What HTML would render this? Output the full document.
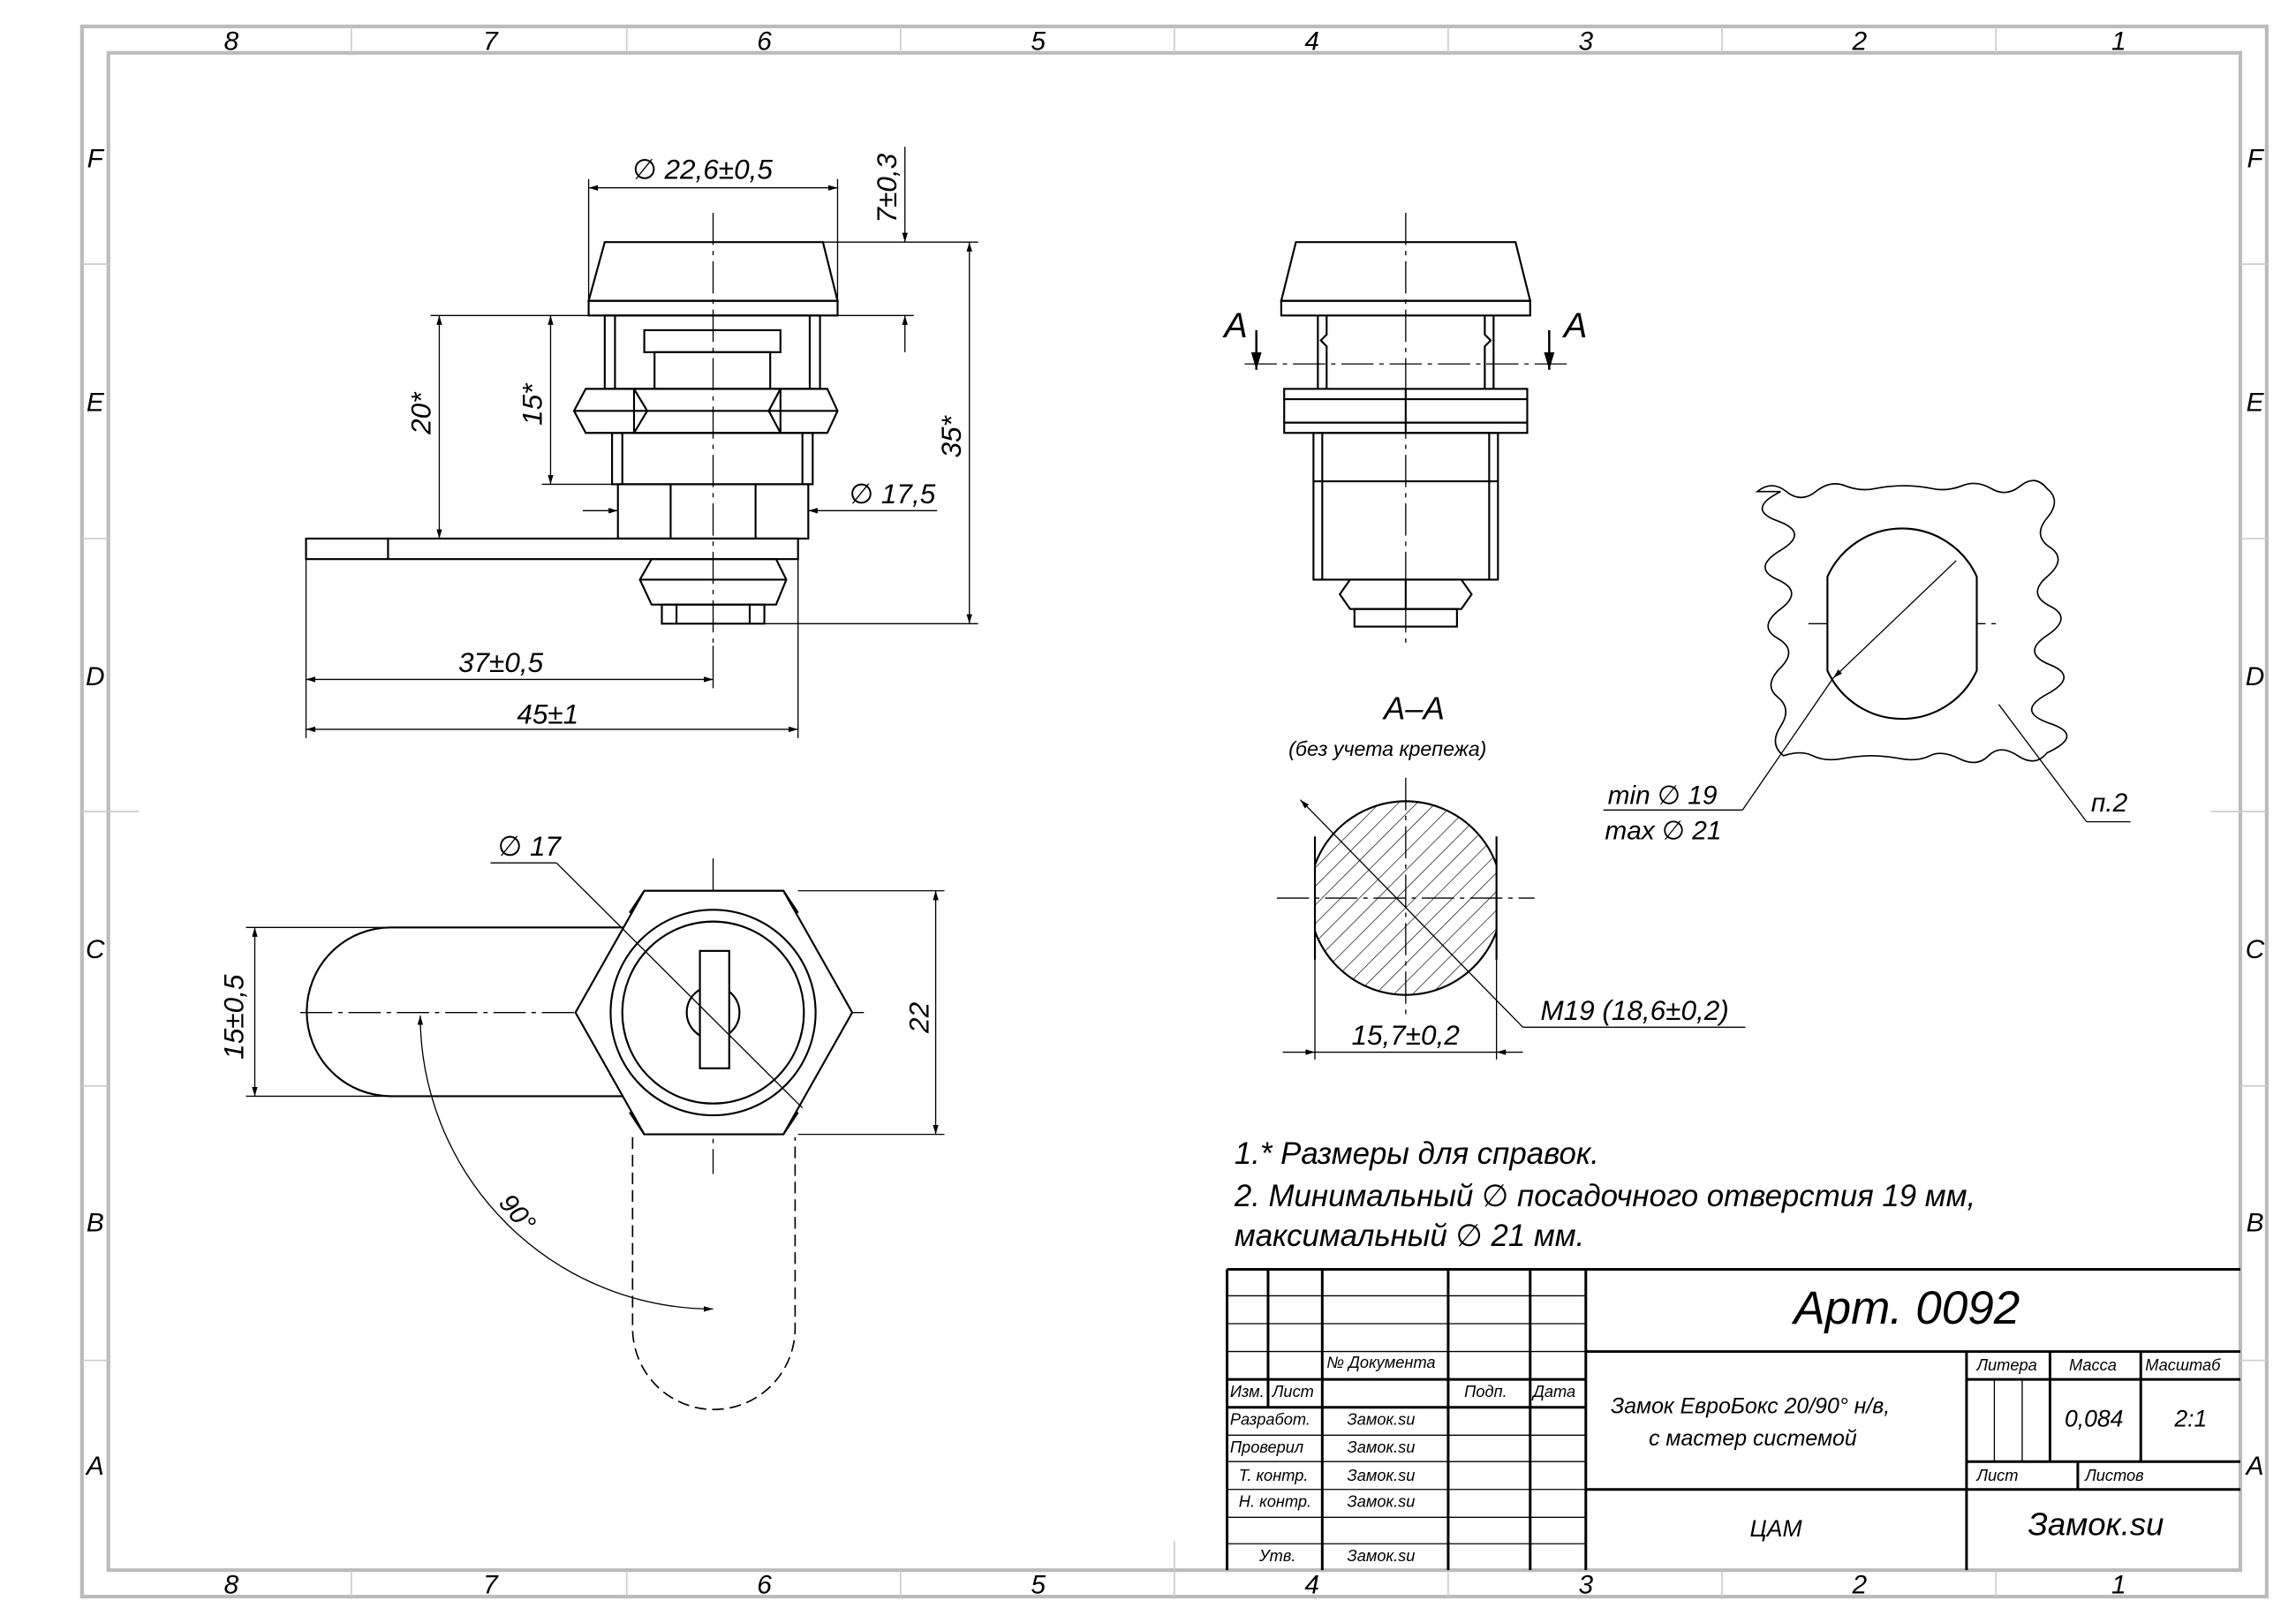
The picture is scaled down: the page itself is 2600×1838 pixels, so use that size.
<!DOCTYPE html>
<html><head><meta charset="utf-8"><style>
html,body{margin:0;padding:0;background:#fff;}
svg{display:block}
text{font-family:"Liberation Sans","DejaVu Sans",sans-serif;font-style:italic;fill:#000}
</style></head><body>
<svg width="2600" height="1838" viewBox="0 0 1568 1106" preserveAspectRatio="none" xmlns="http://www.w3.org/2000/svg">
<defs>
<marker id="ar" viewBox="0 0 10 10" refX="10" refY="5" markerWidth="8" markerHeight="8" orient="auto-start-reverse"><path d="M0,2 L10,5 L0,8 z" fill="#000"/></marker>
<pattern id="hatch" width="9" height="9" patternUnits="userSpaceOnUse" patternTransform="rotate(45)"><line x1="0" y1="0" x2="0" y2="9" stroke="#000" stroke-width="0.8"/></pattern>
<clipPath id="sec"><rect x="898" y="540" width="124" height="150"/></clipPath>
</defs>
<!-- frame -->
<g fill="none" stroke="#bbb" stroke-width="2.5">
<rect x="56" y="18" width="1492" height="1070"/>
<rect x="74" y="36" width="1456" height="1034"/>
</g>
<g stroke="#ccc" stroke-width="1">
<line x1="240" y1="18" x2="240" y2="36"/><line x1="428" y1="18" x2="428" y2="36"/><line x1="615" y1="18" x2="615" y2="36"/><line x1="802" y1="18" x2="802" y2="36"/><line x1="989" y1="18" x2="989" y2="36"/><line x1="1176" y1="18" x2="1176" y2="36"/><line x1="1363" y1="18" x2="1363" y2="36"/>
<line x1="240" y1="1070" x2="240" y2="1088"/><line x1="428" y1="1070" x2="428" y2="1088"/><line x1="615" y1="1070" x2="615" y2="1088"/><line x1="802" y1="1050" x2="802" y2="1088"/><line x1="989" y1="1070" x2="989" y2="1088"/><line x1="1176" y1="1070" x2="1176" y2="1088"/><line x1="1363" y1="1070" x2="1363" y2="1088"/>
<line x1="56" y1="180" x2="74" y2="180"/><line x1="56" y1="367" x2="74" y2="367"/><line x1="56" y1="553" x2="95" y2="553"/><line x1="56" y1="740" x2="74" y2="740"/><line x1="56" y1="927" x2="74" y2="927"/>
<line x1="1530" y1="180" x2="1548" y2="180"/><line x1="1530" y1="367" x2="1548" y2="367"/><line x1="1510" y1="553" x2="1548" y2="553"/><line x1="1530" y1="740" x2="1548" y2="740"/><line x1="1530" y1="927" x2="1548" y2="927"/>
</g>
<g font-size="18" text-anchor="middle" style="font-style:normal">
<text x="158" y="34">8</text><text x="335" y="34">7</text><text x="522" y="34">6</text><text x="709" y="34">5</text><text x="896" y="34">4</text><text x="1083" y="34">3</text><text x="1270" y="34">2</text><text x="1447" y="34">1</text>
<text x="158" y="1086">8</text><text x="335" y="1086">7</text><text x="522" y="1086">6</text><text x="709" y="1086">5</text><text x="896" y="1086">4</text><text x="1083" y="1086">3</text><text x="1270" y="1086">2</text><text x="1447" y="1086">1</text>
<text x="65" y="114">F</text><text x="65" y="280">E</text><text x="65" y="467">D</text><text x="65" y="653">C</text><text x="65" y="839">B</text><text x="65" y="1005">A</text>
<text x="1540" y="114">F</text><text x="1540" y="280">E</text><text x="1540" y="467">D</text><text x="1540" y="653">C</text><text x="1540" y="839">B</text><text x="1540" y="1005">A</text>
</g>

<g fill="none" stroke="#000" stroke-width="1.3">
<!-- top-left view -->
<path d="M413,165 L562,165 L572,205 L402,205 Z"/>
<rect x="402" y="205" width="170" height="10"/>
<rect x="413" y="215" width="147" height="50"/>
<line x1="420" y1="215" x2="420" y2="265"/><line x1="553" y1="215" x2="553" y2="265"/>
<rect x="440" y="225" width="93" height="15"/>
<rect x="447" y="240" width="79" height="25"/>
<path d="M400,265 L565,265 L572,280 L565,295 L400,295 L392,280 Z"/>
<line x1="433" y1="265" x2="433" y2="295"/><line x1="442" y1="280" x2="433" y2="265"/><line x1="442" y1="280" x2="433" y2="295"/>
<line x1="533" y1="265" x2="533" y2="295"/><line x1="525" y1="280" x2="533" y2="265"/><line x1="525" y1="280" x2="533" y2="295"/>
<line x1="392" y1="280" x2="572" y2="280"/>
<rect x="418" y="295" width="137" height="35"/>
<line x1="425" y1="295" x2="425" y2="330"/><line x1="548" y1="295" x2="548" y2="330"/>
<rect x="422" y="330" width="130" height="37"/>
<line x1="458" y1="330" x2="458" y2="367"/><line x1="516" y1="330" x2="516" y2="367"/>
<rect x="209" y="367" width="336" height="14"/>
<line x1="265" y1="367" x2="265" y2="381"/>
<path d="M445,381 L530,381 L537,395 L530,412 L445,412 L437,395 Z"/>
<line x1="437" y1="395" x2="537" y2="395"/>
<rect x="452" y="412" width="70" height="13"/>
<line x1="462" y1="412" x2="462" y2="425"/><line x1="512" y1="412" x2="512" y2="425"/>

<!-- middle view -->
<path d="M885,165 L1035,165 L1045,205 L875,205 Z"/>
<rect x="875" y="205" width="170" height="10"/>
<path d="M900,215 L900,265 M1020,215 L1020,265"/>
<path d="M906,215 L906,228 L902,232 L906,236 L906,265 M1014,215 L1014,228 L1018,232 L1014,236 L1014,265"/>
<rect x="877" y="265" width="166" height="30"/>
<line x1="877" y1="272" x2="1043" y2="272"/><line x1="877" y1="288" x2="1043" y2="288"/>
<line x1="960" y1="265" x2="960" y2="295"/>
<rect x="897" y="295" width="126" height="100"/>
<line x1="903" y1="295" x2="903" y2="395"/><line x1="1017" y1="295" x2="1017" y2="395"/>
<line x1="897" y1="328" x2="1023" y2="328"/>
<path d="M922,395 L998,395 L1005,405 L998,415 L922,415 L915,405 Z"/>
<line x1="960" y1="395" x2="960" y2="415"/>
<rect x="925" y="415" width="70" height="12"/>
</g>
<!-- centerlines -->
<g stroke="#000" stroke-width="0.8" stroke-dasharray="22,4,3,4" fill="none">
<line x1="487" y1="145" x2="487" y2="440"/>
<line x1="960" y1="145" x2="960" y2="440"/>
<line x1="850" y1="248" x2="1070" y2="248"/>
<line x1="872" y1="612" x2="1048" y2="612"/><line x1="960" y1="530" x2="960" y2="695"/>
<line x1="1235" y1="425" x2="1365" y2="425"/><line x1="1298" y1="360" x2="1298" y2="490"/>
<line x1="205" y1="690" x2="590" y2="690"/><line x1="487" y1="585" x2="487" y2="800"/>
</g>
<!-- section arrows -->
<g stroke="#000" stroke-width="1.5">
<line x1="858" y1="225" x2="858" y2="252" marker-end="url(#ar)"/>
<line x1="1058" y1="225" x2="1058" y2="252" marker-end="url(#ar)"/>
</g>
<text x="836" y="230" font-size="24">A</text><text x="1068" y="230" font-size="24">A</text>

<!-- dims top-left -->
<g stroke="#000" stroke-width="0.8" fill="none">
<line x1="402" y1="205" x2="402" y2="122"/><line x1="572" y1="205" x2="572" y2="122"/>
<line x1="402" y1="128" x2="572" y2="128" marker-start="url(#ar)" marker-end="url(#ar)"/>
<line x1="562" y1="165" x2="668" y2="165"/><line x1="572" y1="215" x2="624" y2="215"/>
<line x1="618" y1="100" x2="618" y2="165" marker-end="url(#ar)"/>
<line x1="618" y1="240" x2="618" y2="215" marker-end="url(#ar)"/>
<line x1="522" y1="425" x2="668" y2="425"/>
<line x1="662" y1="165" x2="662" y2="425" marker-start="url(#ar)" marker-end="url(#ar)"/>
<line x1="413" y1="215" x2="294" y2="215"/><line x1="209" y1="367" x2="294" y2="367"/>
<line x1="300" y1="215" x2="300" y2="367" marker-start="url(#ar)" marker-end="url(#ar)"/>
<line x1="376" y1="215" x2="376" y2="330" marker-start="url(#ar)" marker-end="url(#ar)"/>
<line x1="370" y1="330" x2="418" y2="330"/>
<line x1="398" y1="348" x2="422" y2="348" marker-end="url(#ar)"/>
<line x1="640" y1="348" x2="552" y2="348" marker-end="url(#ar)"/>
<line x1="209" y1="381" x2="209" y2="503"/><line x1="545" y1="381" x2="545" y2="503"/><line x1="487" y1="440" x2="487" y2="469"/>
<line x1="209" y1="463" x2="487" y2="463" marker-start="url(#ar)" marker-end="url(#ar)"/>
<line x1="209" y1="497" x2="545" y2="497" marker-start="url(#ar)" marker-end="url(#ar)"/>
</g>
<g font-size="19">
<text x="432" y="122">∅ 22,6±0,5</text>
<text transform="translate(612,152) rotate(-90)">7±0,3</text>
<text transform="translate(656,312) rotate(-90)">35*</text>
<text transform="translate(294,296) rotate(-90)">20*</text>
<text transform="translate(370,290) rotate(-90)">15*</text>
<text x="580" y="343">∅ 17,5</text>
<text x="313" y="458">37±0,5</text>
<text x="353" y="493">45±1</text>
</g>

<!-- section A-A -->
<text x="945" y="490" font-size="22">A–A</text>
<text x="880" y="515" font-size="14">(без учета крепежа)</text>
<g clip-path="url(#sec)">
<circle cx="960" cy="612" r="66" fill="url(#hatch)" stroke="#000" stroke-width="1.3"/>
</g>
<line x1="898" y1="570" x2="898" y2="654" stroke="#000" stroke-width="1.3"/>
<line x1="1022" y1="570" x2="1022" y2="654" stroke="#000" stroke-width="1.3"/>
<g stroke="#000" stroke-width="0.8" fill="none">
<line x1="888" y1="545" x2="1040" y2="700" marker-start="url(#ar)"/>
<line x1="1040" y1="700" x2="1192" y2="700"/>
<line x1="898" y1="654" x2="898" y2="722"/><line x1="1022" y1="654" x2="1022" y2="722"/>
<line x1="876" y1="717" x2="898" y2="717" marker-end="url(#ar)"/><line x1="1040" y1="717" x2="1022" y2="717" marker-end="url(#ar)"/>
<line x1="898" y1="717" x2="1022" y2="717"/>
</g>
<text x="1052" y="695" font-size="19">M19  (18,6±0,2)</text>
<text x="923" y="712" font-size="19">15,7±0,2</text>

<!-- hole view -->
<path d="M1200,335 q10,-8 20,0 t20,0 t20,-4 t20,2 t20,-2 t20,2 t20,-2 t20,2 t20,-2 t18,2 q10,8 0,20 t2,20 t-2,20 t2,20 t-2,20 t2,20 t-2,20 t2,20 t-2,20 q-8,10 -20,2 t-20,0 t-20,2 t-20,-2 t-20,2 t-20,-2 t-20,2 t-20,-2 t-20,0 q-10,-8 -2,-20 t-2,-20 t2,-20 t-2,-20 t2,-20 t-2,-20 t2,-20 t-2,-20 t2,-20 z" fill="none" stroke="#000" stroke-width="1"/>
<path d="M1248,393 A56,56 0 0 1 1350,393 L1350,457 A56,56 0 0 1 1248,457 Z" fill="#fff" stroke="#000" stroke-width="1.3"/>
<g stroke="#000" stroke-width="0.8" fill="none">
<line x1="1336" y1="382" x2="1252" y2="462" marker-end="url(#ar)"/>
<line x1="1252" y1="462" x2="1190" y2="552"/>
<line x1="1095" y1="552" x2="1190" y2="552"/>
<line x1="1365" y1="480" x2="1425" y2="560"/><line x1="1425" y1="560" x2="1455" y2="560"/>
</g>
<text x="1098" y="548" font-size="18">min  ∅ 19</text>
<text x="1096" y="572" font-size="18">max  ∅ 21</text>
<text x="1428" y="553" font-size="18">п.2</text>

<!-- bottom-left view -->
<g fill="none" stroke="#000" stroke-width="1.3">
<path d="M267,632 L430,632 M267,747 L430,747 M267,632 A57.5,57.5 0 0 0 267,747"/>
<path d="M440,607 L535,607 L582,690 L535,773 L440,773 L393,690 Z" fill="#fff"/>
<path d="M440,607 L430,622 M535,607 L545,622 M440,773 L430,758 M535,773 L545,758"/>
<circle cx="487" cy="690" r="70" fill="#fff"/>
<circle cx="487" cy="690" r="62"/>
<circle cx="487" cy="690" r="18"/>
<rect x="478" y="648" width="20" height="80" fill="#fff"/>
</g>
<g fill="none" stroke="#000" stroke-width="1" stroke-dasharray="8,4">
<path d="M432,775 L432,905 A55.5,55.5 0 0 0 543,905 L543,775"/>
</g>
<g stroke="#000" stroke-width="0.8" fill="none">
<line x1="335" y1="588" x2="380" y2="588"/>
<line x1="380" y1="588" x2="548" y2="755"/>
<line x1="545" y1="607" x2="645" y2="607"/><line x1="545" y1="773" x2="645" y2="773"/>
<line x1="639" y1="607" x2="639" y2="773" marker-start="url(#ar)" marker-end="url(#ar)"/>
<line x1="267" y1="632" x2="168" y2="632"/><line x1="267" y1="747" x2="168" y2="747"/>
<line x1="174" y1="632" x2="174" y2="747" marker-start="url(#ar)" marker-end="url(#ar)"/>
<path d="M287,692 A200,200 0 0 0 487,892" marker-start="url(#ar)" marker-end="url(#ar)"/>
</g>
<text x="340" y="583" font-size="19">∅ 17</text>
<text transform="translate(634,704) rotate(-90)" font-size="19">22</text>
<text transform="translate(166,722) rotate(-90)" font-size="19">15±0,5</text>
<text transform="translate(340,820) rotate(50)" font-size="18">90°</text>

<!-- notes -->
<g font-size="21">
<text x="843" y="793">1.* Размеры для справок.</text>
<text x="843" y="822">2. Минимальный ∅ посадочного отверстия 19 мм,</text>
<text x="843" y="849">максимальный ∅  21 мм.</text>
</g>

<!-- title block -->
<g stroke="#000" fill="none">
<g stroke-width="1.8">
<line x1="838" y1="865" x2="1530" y2="865"/>
<line x1="838" y1="865" x2="838" y2="1070"/>
<line x1="903" y1="865" x2="903" y2="1070"/>
<line x1="989" y1="865" x2="989" y2="1070"/>
<line x1="1045" y1="865" x2="1045" y2="1070"/>
<line x1="1083" y1="865" x2="1083" y2="1070"/>
<line x1="866" y1="865" x2="866" y2="959"/>
<line x1="838" y1="940" x2="1083" y2="940"/>
<line x1="838" y1="959" x2="1083" y2="959"/>
<line x1="1083" y1="921" x2="1530" y2="921"/>
<line x1="1083" y1="1015" x2="1530" y2="1015"/>
<line x1="1343" y1="921" x2="1343" y2="1070"/>
<line x1="1343" y1="940" x2="1530" y2="940"/>
<line x1="1343" y1="996" x2="1530" y2="996"/>
<line x1="1400" y1="921" x2="1400" y2="996"/>
<line x1="1462" y1="921" x2="1462" y2="996"/>
<line x1="1419" y1="996" x2="1419" y2="1015"/>
</g>
<g stroke-width="0.8">
<line x1="838" y1="883" x2="1083" y2="883"/>
<line x1="838" y1="902" x2="1083" y2="902"/>
<line x1="838" y1="921" x2="1083" y2="921"/>
<line x1="838" y1="978" x2="1083" y2="978"/>
<line x1="838" y1="996" x2="1083" y2="996"/>
<line x1="838" y1="1015" x2="1083" y2="1015"/>
<line x1="838" y1="1034" x2="1083" y2="1034"/>
<line x1="838" y1="1052" x2="1083" y2="1052"/>
<line x1="1362" y1="940" x2="1362" y2="996"/>
<line x1="1381" y1="940" x2="1381" y2="996"/>
</g>
</g>
<g font-size="11">
<text x="906" y="932">№ Документа</text>
<text x="840" y="952">Изм.</text><text x="869" y="952">Лист</text>
<text x="1000" y="952">Подп.</text><text x="1047" y="952">Дата</text>
<text x="840" y="971">Разработ.</text><text x="920" y="971">Замок.su</text>
<text x="840" y="990">Проверил</text><text x="920" y="990">Замок.su</text>
<text x="846" y="1009">Т. контр.</text><text x="920" y="1009">Замок.su</text>
<text x="846" y="1027">Н. контр.</text><text x="920" y="1027">Замок.su</text>
<text x="860" y="1064">Утв.</text><text x="920" y="1064">Замок.su</text>
<text x="1350" y="934">Литера</text><text x="1413" y="934">Масса</text><text x="1465" y="934">Масштаб</text>
<text x="1350" y="1009">Лист</text><text x="1424" y="1009">Листов</text>
</g>
<text x="1225" y="902" font-size="32">Арт. 0092</text>
<text x="1100" y="963" font-size="15">Замок ЕвроБокс 20/90° н/в,</text>
<text x="1126" y="985" font-size="15">с мастер системой</text>
<text x="1410" y="972" font-size="16">0,084</text><text x="1485" y="972" font-size="16">2:1</text>
<text x="1195" y="1047" font-size="16">ЦАМ</text>
<text x="1385" y="1046" font-size="22">Замок.su</text>
</svg>
</body></html>
